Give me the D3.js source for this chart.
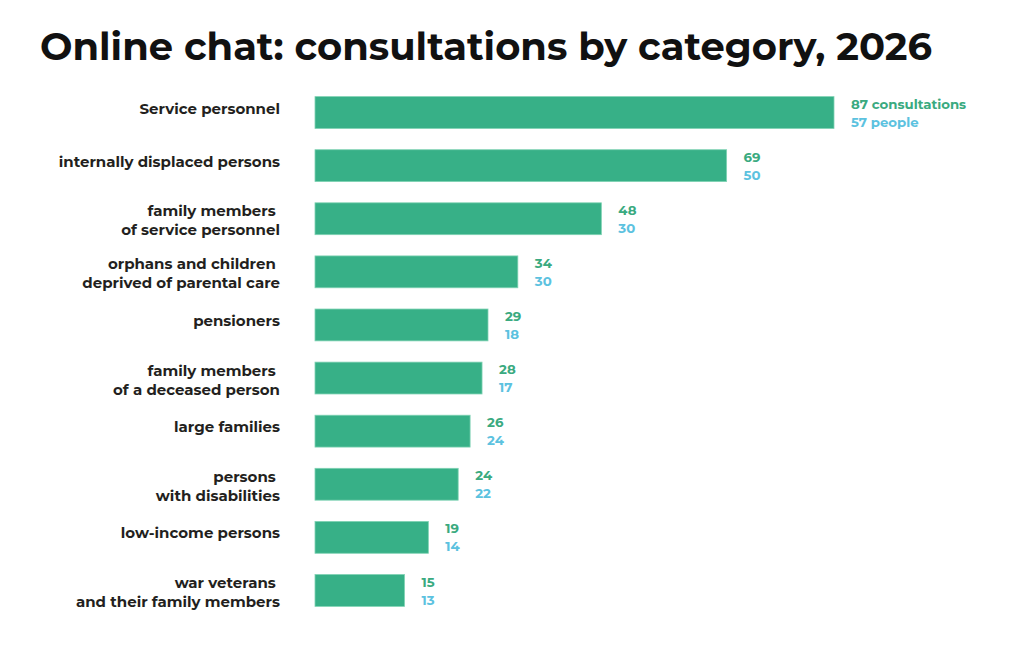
<!DOCTYPE html>
<html>
<head>
<meta charset="utf-8">
<script src="https://cdn.jsdelivr.net/npm/d3@7"></script>
<style>
  body { margin: 0; background: #fff; }
  svg { display: block; }
</style>
</head>
<body>
<svg width="1024" height="648"></svg>
<script>
var categories = [
    ["Service personnel"],
    ["internally displaced persons"],
    ["family members ", "of service personnel"],
    ["orphans and children ", "deprived of parental care"],
    ["pensioners"],
    ["family members ", "of a deceased person"],
    ["large families"],
    ["persons ", "with disabilities"],
    ["low-income persons"],
    ["war veterans ", "and their family members"]
];
var consultations = [87, 69, 48, 34, 29, 28, 26, 24, 19, 15];
var people = [57, 50, 30, 30, 18, 17, 24, 22, 14, 13];

var svg = d3.select('svg');
var font = "Montserrat, 'Open Sans', 'DejaVu Sans', sans-serif";

svg.append('text')
    .attr('x', 40)
    .attr('y', 60)
    .attr('font-family', font)
    .attr('font-weight', 700)
    .attr('font-size', 38)
    .attr('fill', '#111')
    .attr('textLength', 892)
    .attr('lengthAdjust', 'spacingAndGlyphs')
    .text('Online chat: consultations by category, 2026');

var x = d3.scaleLinear().domain([0, 87]).range([315, 834]);
var y = d3.scaleBand()
    .domain(d3.range(categories.length))
    .range([86, 617])
    .paddingInner(0.4)
    .paddingOuter(0.2);

var rows = svg.selectAll('g.row')
    .data(d3.range(categories.length))
    .enter()
    .append('g')
    .attr('class', 'row');

rows.append('rect')
    .attr('x', x(0))
    .attr('y', function(i){ return y(i); })
    .attr('width', function(i){ return x(consultations[i]) - x(0); })
    .attr('height', y.bandwidth())
    .attr('fill', '#37b087')
    .attr('stroke', '#7fd2b3')
    .attr('stroke-width', 0.8);

// category labels, right aligned
rows.each(function(i){
    var lines = categories[i];
    var cy = y(i) + y.bandwidth() / 2;
    var t = d3.select(this).append('text')
        .attr('text-anchor', 'end')
        .attr('font-family', font)
        .attr('font-weight', 700)
        .attr('font-size', 15)
        .attr('fill', '#231f20');
    lines.forEach(function(l, k){
        t.append('tspan')
            .attr('x', 280)
            .attr('y', cy + 5 + (k - (lines.length - 1) / 2) * 19 - (lines.length > 1 ? -2 : 4))
            .text(l);
    });
});

// value labels
rows.append('text')
    .attr('x', function(i){ return x(consultations[i]) + 17; })
    .attr('y', function(i){ return y(i) + 12; })
    .attr('font-family', font)
    .attr('font-weight', 700)
    .attr('font-size', 13.3)
    .attr('fill', '#3aaa80')
    .text(function(i){ return i === 0 ? consultations[i] + ' consultations' : consultations[i]; });

rows.append('text')
    .attr('x', function(i){ return x(consultations[i]) + 17; })
    .attr('y', function(i){ return y(i) + 30; })
    .attr('font-family', font)
    .attr('font-weight', 700)
    .attr('font-size', 13.3)
    .attr('fill', '#5cc2df')
    .text(function(i){ return i === 0 ? people[i] + ' people' : people[i]; });
</script>
</body>
</html>
